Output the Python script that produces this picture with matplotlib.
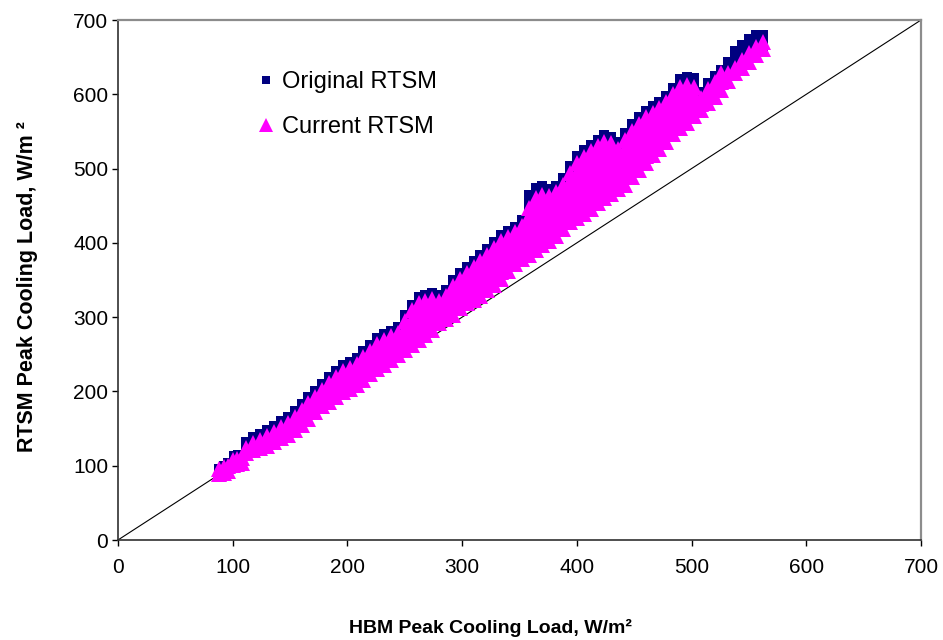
import matplotlib
matplotlib.use("Agg")
import matplotlib.pyplot as plt

plt.rcParams['font.family'] = ['Liberation Sans', 'DejaVu Sans']

# HBM peak load columns (W/m2) shared by both series in the main band
band_x = [112, 118, 124, 130, 136, 142, 148, 154, 160, 166, 172, 178, 184, 190,
          196, 202, 208, 214, 220, 226, 232, 238, 244, 250, 256, 262, 268, 274,
          280, 286, 292, 298, 304, 310, 316, 322, 328, 334, 340, 346, 352, 358,
          364, 370, 376, 382, 388, 394, 400, 406, 412, 418, 424, 430, 436, 442,
          448, 454, 460, 466, 472, 478, 484, 490, 496, 502, 508, 514, 520, 526,
          532, 538, 544, 550, 556, 562]

# Original RTSM: upper envelope of the band, one value per column
orig_y = [132, 138, 143, 148, 154, 160, 166, 173, 183, 192, 200, 210, 219, 228,
          235, 240, 245, 255, 263, 272, 277, 282, 287, 303, 317, 327, 330, 332,
          330, 337, 350, 359, 367, 376, 384, 392, 401, 410, 416, 422, 431, 465,
          474, 476, 472, 477, 487, 503, 517, 525, 532, 539, 545, 543, 536, 548,
          560, 569, 578, 584, 590, 598, 609, 620, 623, 622, 603, 615, 625, 633,
          643, 658, 666, 675, 680, 680]

# Original RTSM: next row down in each column
orig_y2 = [123, 129, 134, 139, 145, 151, 157, 164, 174, 183, 191, 201, 210, 219,
           226, 231, 236, 246, 254, 263, 268, 273, 278, 294, 308, 318, 321, 323,
           321, 328, 341, 350, 358, 367, 375, 383, 392, 401, 407, 413, 422, 456,
           465, 467, 463, 468, 478, 494, 508, 516, 523, 530, 536, 534, 527, 539,
           551, 560, 569, 575, 581, 589, 600, 611, 614, 613, 594, 606, 616, 624,
           634, 649, 657, 666, 671, 671]

# Original RTSM: low-load cases and a few deeper points
orig_extra_x = [88, 92, 96, 101, 105, 109, 358, 364, 370, 496, 502, 538, 544, 550, 556, 562]
orig_extra_y = [95, 100, 104, 113, 114, 115, 447, 456, 458, 605, 604, 641, 648, 657, 662, 662]

# Current RTSM: values stacked in each column of band_x
cur_y = [
    [117, 124], [121, 130], [124, 135], [127, 134, 140], [132, 139, 146],
    [137, 145, 152], [142, 150, 158], [148, 157, 165], [155, 165, 175],
    [163, 173, 184], [172, 182, 192], [180, 191, 202], [186, 194, 203, 211],
    [193, 202, 211, 220], [199, 208, 218, 227], [203, 213, 222, 232],
    [208, 218, 227, 237], [215, 226, 236, 247], [223, 234, 244, 255],
    [230, 241, 252, 264], [236, 247, 258, 269], [242, 253, 263, 274],
    [249, 259, 269, 279], [256, 266, 276, 286, 295], [262, 274, 286, 298, 309],
    [269, 281, 294, 307, 319], [276, 288, 299, 311, 322], [283, 293, 304, 314, 324],
    [292, 302, 312, 322], [298, 308, 319, 329], [303, 313, 323, 333, 342],
    [312, 322, 332, 342, 351], [319, 329, 339, 349, 359], [323, 334, 345, 357, 368],
    [328, 340, 352, 364, 376], [336, 348, 360, 372, 384],
    [343, 353, 363, 373, 383, 393], [351, 361, 371, 381, 392, 402],
    [362, 374, 385, 397, 408], [371, 382, 392, 403, 414], [378, 389, 400, 411, 423],
    [384, 394, 405, 415, 426, 436, 447], [390, 400, 410, 420, 430, 440, 450, 460],
    [397, 408, 420, 431, 443, 454, 465], [403, 413, 423, 433, 443, 453, 463],
    [409, 419, 429, 439, 449, 458, 468], [419, 429, 439, 449, 458, 468, 478],
    [428, 439, 450, 461, 472, 483, 494], [434, 446, 458, 471, 483, 496, 508],
    [439, 450, 461, 472, 483, 494, 505, 516], [446, 457, 468, 479, 490, 501, 512, 523],
    [453, 464, 475, 486, 497, 508, 519, 530], [460, 471, 482, 493, 503, 514, 525, 536],
    [466, 477, 488, 500, 511, 523, 534], [472, 483, 494, 505, 516, 527],
    [478, 490, 502, 515, 527, 539], [488, 499, 509, 520, 530, 541, 551],
    [498, 508, 519, 529, 539, 550, 560], [507, 517, 528, 538, 548, 559, 569],
    [518, 529, 541, 552, 564, 575], [526, 537, 548, 559, 570, 581],
    [536, 547, 557, 568, 578, 589], [547, 558, 568, 579, 589, 600],
    [555, 566, 577, 588, 599, 610], [562, 572, 582, 593, 603, 613],
    [571, 581, 591, 600, 610], [579, 587, 595], [588, 597, 607], [596, 606, 617],
    [606, 617, 628], [618, 628], [628, 636], [636, 646], [644, 656],
    [653, 664], [661, 670],
]

# Current RTSM: low-load cases
cur_low_x = [88, 88, 92, 92, 96, 96, 100, 100, 104, 104, 108, 108]
cur_low_y = [89, 96, 90, 98, 93, 100, 101, 108, 102, 109, 103, 110]

navy = "#000080"
magenta = "#FF00FF"

ox = band_x + band_x + orig_extra_x
oy = orig_y + orig_y2 + orig_extra_y
cx = list(cur_low_x)
cy = list(cur_low_y)
for x, ys in zip(band_x, cur_y):
    cx += [x] * len(ys)
    cy += ys

fig = plt.figure(figsize=(9.43, 6.4), dpi=100)
ax = fig.add_axes([0.1251, 0.15625, 0.8516, 0.8125])

# 1:1 reference line
ax.plot([0, 700], [0, 700], color="black", lw=0.8, zorder=1)

ax.plot(ox, oy, ls="none", marker="s", ms=7.5, mfc=navy, mec=navy, mew=0,
        zorder=2, label="Original RTSM")
ax.plot(cx, cy, ls="none", marker="^", ms=11.5, mfc=magenta, mec=magenta, mew=0,
        zorder=3, label="Current RTSM")

ax.set_xlim(0, 700)
ax.set_ylim(0, 700)
ax.set_xticks(range(0, 701, 100))
ax.set_yticks(range(0, 701, 100))
ax.tick_params(direction="out", length=4, width=1, labelsize=15, colors="black")
ax.tick_params(axis="x", pad=9)
ax.tick_params(axis="y", pad=3)

for side in ("left", "bottom"):
    ax.spines[side].set_color("#303030")
    ax.spines[side].set_linewidth(1.2)
for side in ("top", "right"):
    ax.spines[side].set_color("#8c8c8c")
    ax.spines[side].set_linewidth(1.6)

leg = ax.legend(loc="upper left", bbox_to_anchor=(0.172, 0.902), frameon=False,
                fontsize=17, borderpad=0, borderaxespad=0, handlelength=0.8,
                handletextpad=0.3, labelspacing=0.98, numpoints=1, markerscale=0.85)

fig.text(490 / 943, 1 - 628 / 640, "HBM Peak Cooling Load, W/m\u00b2",
         ha="center", va="center", fontsize=14, fontweight="bold")
fig.text(28 / 943, 1 - 287 / 640, "RTSM Peak Cooling Load, W/m \u00b2",
         ha="center", va="center", rotation=90, fontsize=15.5, fontweight="bold")

fig.savefig("out.png", dpi=100)
